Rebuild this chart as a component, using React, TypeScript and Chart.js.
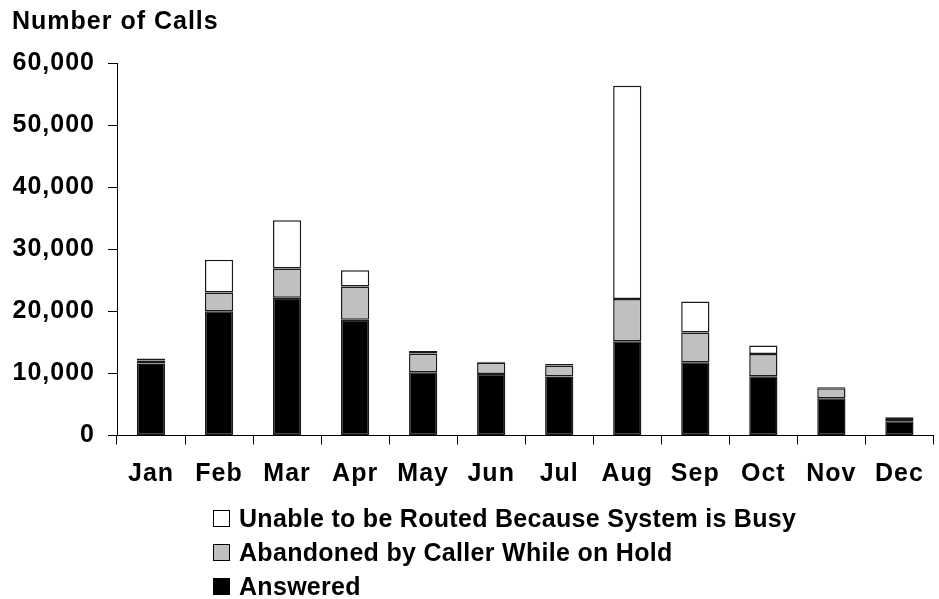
import React, { useEffect, useRef } from "react";
import { Chart, registerables } from "chart.js";

Chart.register(...registerables);

const months = ["Jan", "Feb", "Mar", "Apr", "May", "Jun", "Jul", "Aug", "Sep", "Oct", "Nov", "Dec"];
const answered = [11600, 20000, 22200, 18650, 10200, 9900, 9500, 15200, 11800, 9550, 6000, 2300];
const abandoned = [480, 3050, 4700, 5350, 3000, 1830, 1770, 6800, 4810, 3580, 1600, 370];
const busy = [320, 5250, 7770, 2610, 420, 160, 260, 34350, 4980, 1350, 160, 270];
const yTicks = [0, 10000, 20000, 30000, 40000, 50000, 60000];

const FONT = "'Liberation Sans', Arial, Helvetica, sans-serif";

const seriesDefs = [
  { label: "Answered", data: answered, color: "#000000" },
  { label: "Abandoned by Caller While on Hold", data: abandoned, color: "#c0c0c0" },
  { label: "Unable to be Routed Because System is Busy", data: busy, color: "#ffffff" },
];

const letterSpacingPlugin = {
  id: "letterSpacing",
  beforeInit(chart: any) {
    chart.ctx.letterSpacing = "1px";
  },
  beforeUpdate(chart: any) {
    chart.ctx.letterSpacing = "1px";
  },
  beforeDraw(chart: any) {
    chart.ctx.letterSpacing = "1px";
  },
};

export default function App() {
  const ref = useRef<HTMLCanvasElement | null>(null);

  useEffect(() => {
    document.body.style.margin = "0";
    const canvas = ref.current;
    if (!canvas) return;
    const chart = new Chart(canvas, {
      type: "bar",
      data: {
        labels: months,
        datasets: seriesDefs.map((s) => ({
          label: s.label,
          data: s.data,
          backgroundColor: s.color,
          borderColor: "#1a1a1a",
          borderWidth: 1.5,
          borderSkipped: false,
          categoryPercentage: 1,
          barPercentage: 0.415,
        })),
      },
      plugins: [letterSpacingPlugin],
      options: {
        animation: false,
        responsive: false,
        maintainAspectRatio: false,
        layout: { padding: { left: 12, right: 4, top: 0, bottom: 107.5 } },
        plugins: {
          legend: { display: false },
          tooltip: { enabled: false },
          title: {
            display: true,
            text: "Number of Calls",
            align: "start",
            color: "#000",
            font: { family: FONT, size: 25, weight: "bold", lineHeight: 1.2 },
            padding: { top: 7, bottom: 26 },
          },
        },
        scales: {
          x: {
            stacked: true,
            grid: {
              display: true,
              offset: true,
              drawOnChartArea: false,
              drawTicks: true,
              tickLength: 9,
              color: "#000",
            },
            border: { display: true, color: "#000", width: 1 },
            ticks: {
              color: "#000",
              font: { family: FONT, size: 25, weight: "bold" },
              padding: 15,
              maxRotation: 0,
              autoSkip: false,
            },
            afterFit: (scale: any) => {
              scale.height = 56;
            },
          },
          y: {
            stacked: true,
            min: 0,
            max: 60000,
            afterBuildTicks: (scale: any) => {
              scale.ticks = yTicks.map((v) => ({ value: v }));
            },
            grid: {
              display: true,
              drawOnChartArea: false,
              drawTicks: true,
              tickLength: 9,
              color: "#000",
            },
            border: { display: true, color: "#000", width: 1 },
            ticks: {
              color: "#000",
              font: { family: FONT, size: 25, weight: "bold" },
              padding: 13,
              callback: (v: any) => Number(v).toLocaleString("en-US"),
            },
            afterFit: (scale: any) => {
              scale.width = 105;
            },
          },
        },
      },
    });
    return () => chart.destroy();
  }, []);

  const legendItems = [...seriesDefs].reverse();

  return (
    <div style={{ position: "relative", width: 939, height: 599, background: "#fff" }}>
      <canvas ref={ref} width={939} height={599} style={{ display: "block" }} />
      <div
        style={{
          position: "absolute",
          left: 213,
          top: 501,
          fontFamily: FONT,
          fontWeight: "bold",
          fontSize: 25,
          letterSpacing: "0.3px",
          color: "#000",
        }}
      >
        {legendItems.map((s) => (
          <div key={s.label} style={{ display: "flex", alignItems: "center", height: 34 }}>
            <span
              style={{
                display: "inline-block",
                width: 15,
                height: 15,
                background: s.color,
                border: "1px solid #000",
                marginRight: 9,
              }}
            />
            <span style={{ lineHeight: "34px", whiteSpace: "nowrap" }}>{s.label}</span>
          </div>
        ))}
      </div>
    </div>
  );
}
